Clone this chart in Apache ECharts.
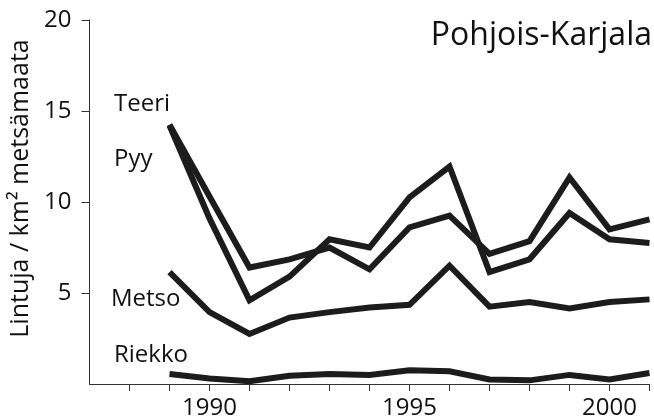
<!DOCTYPE html>
<html>
<head>
<meta charset="utf-8">
<script src="https://cdn.jsdelivr.net/npm/echarts@6/dist/echarts.min.js"></script>
<style>
html, body { margin: 0; padding: 0; background: #fff; }
#main { width: 654px; height: 420px; }
</style>
</head>
<body>
<div id="main"></div>
<script>
// Lintuja / km² metsämaata, Pohjois-Karjala
var years  = [1989, 1990, 1991, 1992, 1993, 1994, 1995, 1996, 1997, 1998, 1999, 2000, 2001];
var teeri  = [14.2, 9.1, 4.6, 5.9, 7.95, 7.5, 10.25, 11.95, 6.15, 6.85, 9.4, 7.95, 7.75];
var pyy    = [14.25, 10.3, 6.4, 6.85, 7.5, 6.3, 8.6, 9.25, 7.15, 7.85, 11.35, 8.5, 9.05];
var metso  = [6.15, 3.95, 2.75, 3.65, 3.95, 4.2, 4.35, 6.5, 4.25, 4.5, 4.15, 4.5, 4.65];
var riekko = [0.55, 0.3, 0.15, 0.45, 0.55, 0.5, 0.75, 0.7, 0.25, 0.2, 0.5, 0.25, 0.6];

var xTicks  = [1988, 1989, 1990, 1991, 1992, 1993, 1994, 1995, 1996, 1997, 1998, 1999, 2000, 2001];
var xLabels = [1990, 1995, 2000];
var yTicks  = [5, 10, 15, 20];

var FONT = '"Open Sans", "Noto Sans", sans-serif';
var INK = '#1c1c1c';

function pairs(vals) {
    var out = [];
    for (var i = 0; i < years.length; i++) {
        out.push([years[i], vals[i]]);
    }
    return out;
}

function lineSeries(name, vals) {
    return {
        name: name,
        type: 'line',
        data: pairs(vals),
        symbol: 'none',
        lineStyle: { color: INK, width: 6, join: 'miter', cap: 'butt' },
        silent: true
    };
}

function label(text, x, y) {
    return {
        type: 'text',
        x: x,
        y: y,
        style: {
            text: text,
            font: '24px ' + FONT,
            fill: '#111',
            textAlign: 'left',
            textVerticalAlign: 'middle'
        }
    };
}

var myChart = echarts.init(document.getElementById('main'));
myChart.setOption({
    animation: false,
    backgroundColor: '#fff',
    title: {
        text: 'Pohjois-Karjala',
        right: -3,
        top: 15,
        textStyle: { fontFamily: FONT, fontSize: 32, fontWeight: 'normal', color: '#111' }
    },
    grid: { left: 89.5, right: 4.5, top: 20, bottom: 35 },
    xAxis: {
        type: 'value',
        min: 1987,
        max: 2001,
        interval: 1,
        splitLine: { show: false },
        axisLine: { lineStyle: { color: '#333', width: 1 } },
        axisTick: { show: true, length: 7, customValues: xTicks, lineStyle: { color: '#333' } },
        axisLabel: {
            customValues: xLabels,
            formatter: function (v) { return String(v); },
            margin: 12,
            color: '#111',
            fontFamily: FONT,
            fontSize: 24
        }
    },
    yAxis: {
        type: 'value',
        min: 0,
        max: 20,
        interval: 5,
        splitLine: { show: false },
        axisLine: { show: true, lineStyle: { color: '#333', width: 1 } },
        axisTick: { show: true, length: 8, customValues: yTicks, lineStyle: { color: '#333' } },
        axisLabel: {
            customValues: yTicks,
            margin: 18,
            color: '#111',
            fontFamily: FONT,
            fontSize: 24
        }
    },
    graphic: [
        {
            type: 'text',
            x: 21,
            y: 188.5,
            rotation: Math.PI / 2,
            style: {
                text: 'Lintuja / km² metsämaata',
                font: '25px ' + FONT,
                fill: '#111',
                textAlign: 'center',
                textVerticalAlign: 'middle'
            }
        },
        label('Teeri', 114, 104),
        label('Pyy', 114, 159),
        label('Metso', 111, 299.5),
        label('Riekko', 114, 355)
    ],
    series: [
        lineSeries('Teeri', teeri),
        lineSeries('Pyy', pyy),
        lineSeries('Metso', metso),
        lineSeries('Riekko', riekko)
    ]
});
</script>
</body>
</html>
